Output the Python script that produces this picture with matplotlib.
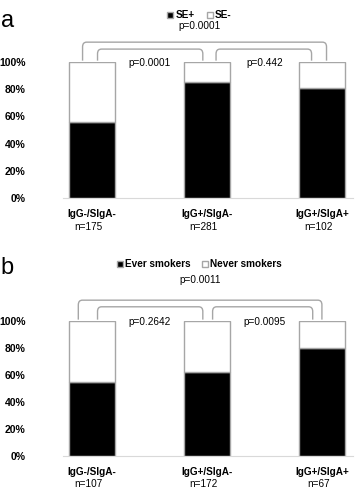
import matplotlib
matplotlib.use('Agg')
import matplotlib.pyplot as plt
from matplotlib.path import Path
from matplotlib.patches import PathPatch, Patch

plt.rcParams['font.family'] = ['Liberation Sans', 'DejaVu Sans']

# данные
groups = ['IgG-/SIgA-', 'IgG+/SIgA-', 'IgG+/SIgA+']
n_a = ['n=175', 'n=281', 'n=102']
n_b = ['n=107', 'n=172', 'n=67']
se_pos = [56, 85, 81]
smokers = [55, 62, 80]
legend_a = ['SE+', 'SE-']
legend_b = ['Ever smokers', 'Never smokers']
p_a = ['p=0.0001', 'p=0.0001', 'p=0.442']
p_b = ['p=0.0011', 'p=0.2642', 'p=0.0095']

edge = '#a6a6a6'


def bracket(ax, x0, x1, y_top, y_bot, rx=0.035, ry=3.5):
    # скобка со скругленными углами
    verts = [(x0, y_bot), (x0, y_top - ry), (x0, y_top), (x0 + rx, y_top),
             (x1 - rx, y_top), (x1, y_top), (x1, y_top - ry), (x1, y_bot)]
    codes = [Path.MOVETO, Path.LINETO, Path.CURVE3, Path.CURVE3,
             Path.LINETO, Path.CURVE3, Path.CURVE3, Path.LINETO]
    ax.add_patch(PathPatch(Path(verts, codes), fill=False, edgecolor=edge,
                           lw=1.0, clip_on=False))


def panel(ax, vals, nlabels, leg, pvals, label, br, p_top_y, leg_y, label_y):
    x = range(len(groups))
    rest = [100 - v for v in vals]
    ax.bar(x, vals, width=0.4, color='black', edgecolor=edge, linewidth=1)
    ax.bar(x, rest, bottom=vals, width=0.4, color='white', edgecolor=edge, linewidth=1)
    ax.set_xlim(-0.25, 2.27)
    ax.set_ylim(0, 100)
    ax.set_yticks([0, 20, 40, 60, 80, 100])
    ax.set_yticklabels(['0%', '20%', '40%', '60%', '80%', '100%'],
                       fontsize=7.5, fontweight='bold')
    ax.set_xticks(list(x))
    ax.set_xticklabels(groups, fontsize=7.2, fontweight='bold')
    ax.tick_params(axis='y', length=0, pad=27)
    ax.tick_params(axis='x', length=0, pad=8)
    for s in ['top', 'right', 'left']:
        ax.spines[s].set_visible(False)
    ax.spines['bottom'].set_color('#d9d9d9')
    for i, t in enumerate(nlabels):
        ax.text(i - 0.03, -21, t, ha='center', va='center', fontsize=7.2)

    # скобки и p
    outer, inner1, inner2 = br
    bracket(ax, outer[0], outer[1], outer[2], 101)
    bracket(ax, inner1[0], inner1[1], inner1[2], 101)
    bracket(ax, inner2[0], inner2[1], inner2[2], 101)
    ax.text(0.94, p_top_y, pvals[0], ha='center', va='center', fontsize=7.2)
    ax.text(0.5, 99, pvals[1], ha='center', va='center', fontsize=7.2)
    ax.text(1.5, 99, pvals[2], ha='center', va='center', fontsize=7.2)

    handles = [Patch(facecolor='black', edgecolor=edge),
               Patch(facecolor='white', edgecolor=edge)]
    ax.legend(handles, leg, loc='center', bbox_to_anchor=(0.47, leg_y),
              ncol=2, frameon=False, handlelength=0.6, handleheight=0.6,
              handletextpad=0.2, columnspacing=1.2,
              prop={'weight': 'bold', 'size': 7.2})
    ax.text(-0.215, label_y, label, transform=ax.transAxes, fontsize=17,
            va='center', ha='left')


fig = plt.figure(figsize=(3.58, 4.91), dpi=100)
ax1 = fig.add_axes([0.176, 0.5967, 0.81, 0.277])
ax2 = fig.add_axes([0.176, 0.0713, 0.81, 0.275])

panel(ax1, se_pos, n_a, legend_a, p_a, 'a',
      [(-0.08, 2.04, 114.6), (0.05, 0.965, 109.5), (1.08, 1.91, 109.5)],
      126.5, 1.343, 1.30)
panel(ax2, smokers, n_b, legend_b, p_b, 'b',
      [(-0.117, 2.0, 115.4), (0.05, 0.965, 110.5), (1.05, 1.92, 110.5)],
      130.5, 1.42, 1.39)

fig.savefig('out.png', dpi=100)
